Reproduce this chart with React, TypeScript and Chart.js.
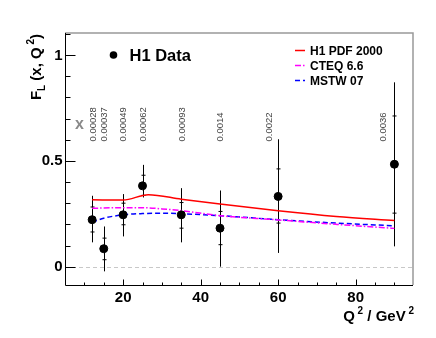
import React, { useEffect, useRef } from "react";
import { Chart, registerables } from "chart.js";

Chart.register(...registerables);

// H1 data
const Q2 = [12, 15, 20, 25, 35, 45, 60, 90];
const FL = [0.222, 0.085, 0.245, 0.382, 0.245, 0.182, 0.332, 0.484];
const STAT_UP = [0.06, 0.05, 0.055, 0.05, 0.058, 0.079, 0.13, 0.228];
const STAT_DN = [0.058, 0.052, 0.047, 0.045, 0.063, 0.078, 0.126, 0.231];
const TOT_UP = [0.113, 0.105, 0.098, 0.099, 0.126, 0.178, 0.27, 0.387];
const TOT_DN = [0.107, 0.107, 0.102, 0.055, 0.13, 0.182, 0.267, 0.388];

// Theory curves
const H1PDF_Q2 = [12, 20, 26.5, 35, 45, 60, 75, 90];
const H1PDF_FL = [0.316, 0.315, 0.34, 0.319, 0.296, 0.264, 0.237, 0.218];
const CTEQ_Q2 = [12, 20, 25, 30, 35, 45, 60, 75, 90];
const CTEQ_FL = [0.276, 0.279, 0.279, 0.273, 0.265, 0.241, 0.221, 0.2, 0.181];
const MSTW_Q2 = [12, 15, 20, 25, 30, 35, 45, 60, 75, 90];
const MSTW_FL = [0.21, 0.229, 0.245, 0.251, 0.253, 0.25, 0.241, 0.222, 0.206, 0.193];

// x-value annotations
const X_LABELS = ["0.00028", "0.00037", "0.00049", "0.00062", "0.00093", "0.0014", "0.0022", "0.0036"];
const X_LABEL_Q2 = [12, 15, 19.8, 25, 35, 44.8, 57.5, 87];

// axis ticks
const X_MIN = 5;
const X_MAX = 94.8;
const Y_MIN = -0.0865;
const Y_MAX = 1.104;
const X_TICK_LABELS = [20, 40, 60, 80];
const X_MINOR_STEP = 5;
const Y_TICK_LABELS = [0, 0.5, 1];
const Y_MINOR_STEP = 0.1;

const LEGEND_NAMES = ["H1 PDF 2000", "CTEQ 6.6", "MSTW 07"];
const FONT = "'Liberation Sans', Arial, Helvetica, sans-serif";

type Seg = { t: string; size: number; dy?: number };

function drawSegs(ctx: CanvasRenderingContext2D, segs: Seg[], x: number, y: number, alignRight: boolean) {
  let total = 0;
  for (const s of segs) {
    ctx.font = `bold ${s.size}px ${FONT}`;
    total += ctx.measureText(s.t).width;
  }
  let cx = alignRight ? x - total : x;
  ctx.textAlign = "left";
  ctx.textBaseline = "alphabetic";
  for (const s of segs) {
    ctx.font = `bold ${s.size}px ${FONT}`;
    ctx.fillText(s.t, cx, y + (s.dy || 0));
    cx += ctx.measureText(s.t).width;
  }
}

const decorPlugin = {
  id: "decor",
  beforeDatasetsDraw(chart: any) {
    const ctx: CanvasRenderingContext2D = chart.ctx;
    const xs = chart.scales.x;
    const ys = chart.scales.y;
    const a = chart.chartArea;
    ctx.save();
    // zero line
    ctx.strokeStyle = "#c8c8c8";
    ctx.lineWidth = 1;
    ctx.setLineDash([4, 3]);
    const y0 = Math.round(ys.getPixelForValue(0)) + 0.5;
    ctx.beginPath();
    ctx.moveTo(a.left, y0);
    ctx.lineTo(a.right, y0);
    ctx.stroke();
    ctx.setLineDash([]);
    // error bars
    ctx.strokeStyle = "#000";
    ctx.lineWidth = 1;
    for (let i = 0; i < Q2.length; i++) {
      const px = Math.round(xs.getPixelForValue(Q2[i])) + 0.5;
      const top = ys.getPixelForValue(FL[i] + TOT_UP[i]);
      const bot = ys.getPixelForValue(FL[i] - TOT_DN[i]);
      ctx.beginPath();
      ctx.moveTo(px, top);
      ctx.lineTo(px, bot);
      ctx.stroke();
      const st = ys.getPixelForValue(FL[i] + STAT_UP[i]);
      const sb = ys.getPixelForValue(FL[i] - STAT_DN[i]);
      ctx.beginPath();
      ctx.moveTo(px - 2, st);
      ctx.lineTo(px + 2, st);
      ctx.moveTo(px - 2, sb);
      ctx.lineTo(px + 2, sb);
      ctx.stroke();
    }
    ctx.restore();
  },
  afterDraw(chart: any) {
    const ctx: CanvasRenderingContext2D = chart.ctx;
    const xs = chart.scales.x;
    const ys = chart.scales.y;
    const a = chart.chartArea;
    ctx.save();
    // frame top/right (gray)
    ctx.strokeStyle = "#999";
    ctx.lineWidth = 1.5;
    ctx.beginPath();
    ctx.moveTo(a.left, a.top);
    ctx.lineTo(a.right, a.top);
    ctx.lineTo(a.right, a.bottom);
    ctx.stroke();
    // axes left/bottom (black)
    ctx.strokeStyle = "#000";
    ctx.lineWidth = 1;
    const L = Math.round(a.left) + 0.5;
    const B = Math.round(a.bottom) + 0.5;
    ctx.beginPath();
    ctx.moveTo(L, a.top);
    ctx.lineTo(L, B);
    ctx.lineTo(a.right, B);
    ctx.stroke();
    // y ticks
    ctx.beginPath();
    for (let v = 0; v <= Y_MAX + 1e-9; v += Y_MINOR_STEP) {
      const vv = Math.round(v * 10) / 10;
      const major = Y_TICK_LABELS.some((m) => Math.abs(m - vv) < 1e-6);
      const py = Math.round(ys.getPixelForValue(vv)) + 0.5;
      ctx.moveTo(L, py);
      ctx.lineTo(L + (major ? 10 : 5), py);
    }
    // x ticks
    for (let v = 10; v <= X_MAX; v += X_MINOR_STEP) {
      const major = X_TICK_LABELS.includes(v);
      const px = Math.round(xs.getPixelForValue(v)) + 0.5;
      ctx.moveTo(px, B);
      ctx.lineTo(px, B - (major ? 6 : 3));
    }
    ctx.stroke();
    // tick labels
    ctx.fillStyle = "#000";
    ctx.font = `bold 15px ${FONT}`;
    ctx.textAlign = "right";
    ctx.textBaseline = "middle";
    for (const v of Y_TICK_LABELS) {
      ctx.fillText(String(v), a.left - 2.5, ys.getPixelForValue(v) + 0.5);
    }
    ctx.textAlign = "center";
    ctx.textBaseline = "alphabetic";
    for (const v of X_TICK_LABELS) {
      ctx.fillText(String(v), xs.getPixelForValue(v), a.bottom + 17);
    }
    // axis titles
    drawSegs(
      ctx,
      [
        { t: "Q", size: 15 },
        { t: " 2", size: 10, dy: -7 },
        { t: " / GeV", size: 15 },
        { t: " 2", size: 10, dy: -7 },
      ],
      a.right + 1,
      a.bottom + 36,
      true
    );
    ctx.save();
    ctx.translate(41, a.top + 1);
    ctx.rotate(-Math.PI / 2);
    drawSegs(
      ctx,
      [
        { t: "F", size: 15 },
        { t: "L", size: 10, dy: 4 },
        { t: " (x, Q", size: 15 },
        { t: " 2", size: 10, dy: -7 },
        { t: ")", size: 15 },
      ],
      0,
      0,
      true
    );
    ctx.restore();
    // x-value annotations
    ctx.fillStyle = "#444";
    ctx.font = `9.5px ${FONT}`;
    for (let i = 0; i < X_LABELS.length; i++) {
      const px = xs.getPixelForValue(X_LABEL_Q2[i]);
      ctx.save();
      ctx.translate(px + 3.4, 141.5);
      ctx.rotate(-Math.PI / 2);
      ctx.textAlign = "left";
      ctx.textBaseline = "alphabetic";
      ctx.fillText(X_LABELS[i], 0, 0);
      ctx.restore();
    }
    ctx.fillStyle = "#8a8a8a";
    ctx.font = `bold 16px ${FONT}`;
    ctx.textAlign = "center";
    ctx.textBaseline = "middle";
    ctx.fillText("x", 79.5, 125);
    // H1 Data legend
    ctx.fillStyle = "#000";
    ctx.beginPath();
    ctx.arc(113.5, 55, 3.8, 0, Math.PI * 2);
    ctx.fill();
    ctx.font = `bold 16.5px ${FONT}`;
    ctx.textAlign = "left";
    ctx.textBaseline = "alphabetic";
    ctx.fillText("H1 Data", 129.5, 60.5);
    // curve legend
    const ds = chart.data.datasets;
    const ly = [50.5, 65.5, 80.5];
    for (let i = 0; i < 3; i++) {
      const d = ds[i + 1];
      ctx.strokeStyle = d.borderColor;
      ctx.lineWidth = 1.5;
      ctx.setLineDash(d.borderDash || []);
      ctx.beginPath();
      ctx.moveTo(295, ly[i]);
      ctx.lineTo(305, ly[i]);
      ctx.stroke();
      ctx.setLineDash([]);
      ctx.fillStyle = "#000";
      ctx.font = `bold 12px ${FONT}`;
      ctx.fillText(LEGEND_NAMES[i], 310, ly[i] + 4.3);
    }
    ctx.restore();
  },
};

export default function App() {
  const ref = useRef<HTMLCanvasElement>(null);
  useEffect(() => {
    if (!ref.current) return;
    const chart = new Chart(ref.current, {
      type: "scatter",
      data: {
        datasets: [
          {
            label: "H1 Data",
            data: Q2.map((x, i) => ({ x, y: FL[i] })),
            backgroundColor: "#000",
            borderColor: "#000",
            pointRadius: 4,
            pointHoverRadius: 4,
            showLine: false,
            order: 0,
          },
          {
            label: LEGEND_NAMES[0],
            type: "line",
            data: H1PDF_Q2.map((x, i) => ({ x, y: H1PDF_FL[i] })),
            borderColor: "#ff0000",
            borderWidth: 1.5,
            pointRadius: 0,
            cubicInterpolationMode: "monotone",
            fill: false,
            order: 1,
          },
          {
            label: LEGEND_NAMES[1],
            type: "line",
            data: CTEQ_Q2.map((x, i) => ({ x, y: CTEQ_FL[i] })),
            borderColor: "#ff00ff",
            borderWidth: 1.5,
            borderDash: [6, 2, 1.5, 2],
            pointRadius: 0,
            cubicInterpolationMode: "monotone",
            fill: false,
            order: 2,
          },
          {
            label: LEGEND_NAMES[2],
            type: "line",
            data: MSTW_Q2.map((x, i) => ({ x, y: MSTW_FL[i] })),
            borderColor: "#0000ff",
            borderWidth: 1.5,
            borderDash: [5, 3],
            pointRadius: 0,
            cubicInterpolationMode: "monotone",
            fill: false,
            order: 3,
          },
        ],
      } as any,
      options: {
        animation: false,
        responsive: false,
        devicePixelRatio: 1,
        layout: { padding: { left: 65, right: 23, top: 33, bottom: 53 } },
        plugins: { legend: { display: false }, tooltip: { enabled: false } },
        scales: {
          x: { type: "linear", min: X_MIN, max: X_MAX, display: false },
          y: { type: "linear", min: Y_MIN, max: Y_MAX, display: false },
        },
      },
      plugins: [decorPlugin],
    });
    return () => chart.destroy();
  }, []);
  return (
    <div style={{ position: "absolute", left: 0, top: 0, width: 436, height: 338, background: "#fff" }}>
      <canvas ref={ref} width={436} height={338} />
    </div>
  );
}
